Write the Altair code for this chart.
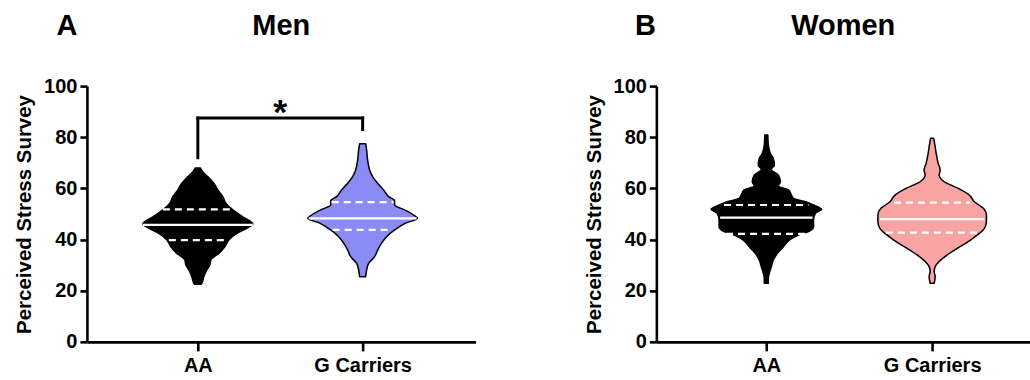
import altair as alt
import pandas as pd

# ---------------- data ----------------
groups = ["AA", "G Carriers"]
panel_titles = ["Men", "Women"]
panel_letters = ["A", "B"]
y_title = "Perceived Stress Survey"
y_ticks = [0, 20, 40, 60, 80, 100]

# violin outlines: score values and half-widths (px at a 165 px category step)
men_aa_v = [68.0, 66.5, 64.6, 62.0, 59.4, 56.8, 54.2, 51.6, 48.9, 47.0, 46.1, 44.4, 42.4, 39.8, 37.2, 34.6, 32.0, 30.1, 28.1, 25.5, 22.9, 22.5]
men_aa_w = [2.5, 5, 10, 16, 20, 25, 28, 35, 45, 53, 55, 49, 39, 31, 27, 21, 13, 12, 9, 6, 4, 3]

men_g_v = [77.5, 75.0, 71.1, 67.2, 64.6, 62.0, 59.4, 56.8, 55.2, 53.5, 51.6, 49.6, 48.3, 46.4, 43.75, 41.1, 38.6, 35.9, 33.3, 30.7, 28.1, 25.5]
men_g_w = [3, 4, 5, 7, 10, 15, 21, 26, 32, 32, 42, 51, 55, 43, 32, 24, 19, 15, 12, 6, 4, 3]

women_aa_v = [80.9, 77.0, 73.7, 71.7, 69.1, 67.4, 65.2, 62.6, 60.9, 59.4, 57.4, 56.1, 54.8, 53.5, 51.8, 50.3, 47.7, 45.0, 43.1, 41.8, 39.8, 37.2, 34.6, 32.0, 29.4, 26.8, 24.9, 22.9]
women_aa_w = [1.5, 2, 4, 7, 8, 5, 12, 14, 12, 22, 25, 27, 39, 47, 55, 49, 47, 47, 42, 32, 23, 17, 11, 7, 5, 3, 2, 2]

women_g_v = [79.6, 76.3, 73.7, 69.8, 67.2, 65.2, 62.6, 60.0, 57.4, 54.8, 52.2, 49.6, 47.0, 44.4, 41.8, 39.2, 36.6, 34.0, 31.4, 29.4, 27.5, 25.5, 22.9]
women_g_w = [1.5, 3, 4, 6, 8, 7, 12, 26, 37, 42, 51, 54, 54, 52, 45, 36, 25, 15, 7, 3, 2, 3, 2]

# quartiles [Q1, median, Q3] and their drawn half-widths (px)
men_aa_q = [39.8, 45.7, 51.8];   men_aa_qw = [29, 55, 35]
men_g_q = [43.75, 48.3, 54.6];   men_g_qw = [30, 54, 31]
women_aa_q = [42.2, 48.6, 53.5]; women_aa_qw = [40, 46, 42]
women_g_q = [42.7, 48.0, 54.4];  women_g_qw = [46, 52, 38]

# significance bracket (men): legs' bottoms and bar height, label
bracket_v = [72.0, 87.5, 83.0]
sig_label = ["*"]

fill_colors = [["#000000", "#8B8BF6"], ["#000000", "#F9A3A3"]]

STEP_PX = 165.0


def outline(center, vs, ws):
    return pd.DataFrame({
        "v": vs,
        "lo": [center - w / STEP_PX for w in ws],
        "hi": [center + w / STEP_PX for w in ws],
    })


def quart(center, qs, qws):
    return pd.DataFrame({
        "kind": ["q1", "median", "q3"],
        "v": qs,
        "lo": [center - w / STEP_PX for w in qws],
        "hi": [center + w / STEP_PX for w in qws],
    })


FONT = "Liberation Sans"


def panel(idx, violins, quarts, xdom, width, letter_dx, bracket=False):
    xs = alt.Scale(domain=xdom, nice=False, zero=False)
    ys = alt.Scale(domain=[0, 100], nice=False, zero=True)
    xaxis = alt.Axis(values=[1, 2], labelExpr="datum.value == 1 ? 'AA' : 'G Carriers'",
                     title=None, grid=False, domainColor="black", domainWidth=2.6,
                     tickColor="black", tickWidth=2.6, tickSize=9, labelPadding=5,
                     labelFont=FONT, labelFontSize=20, labelFontWeight="bold", labelColor="black")
    yaxis = alt.Axis(values=y_ticks, title=y_title, grid=False, domainColor="black", domainWidth=2.6,
                     tickColor="black", tickWidth=2.6, tickSize=7, labelPadding=3,
                     labelFont=FONT, labelFontSize=20, labelFontWeight="bold", labelColor="black",
                     titleFont=FONT, titleFontSize=20.5, titleFontWeight="bold", titleColor="black",
                     titlePadding=9)

    def X(field):
        return alt.X(field, scale=xs, axis=xaxis)

    def Y(field):
        return alt.Y(field, scale=ys, axis=yaxis)

    layers = []
    for k, (vdf, qdf) in enumerate(zip(violins, quarts)):
        area = alt.Chart(vdf).mark_area(orient="horizontal", interpolate="monotone",
                                        fill=fill_colors[idx][k], fillOpacity=1,
                                        stroke="black", strokeWidth=1.5, strokeJoin="round").encode(
            y=Y("v:Q"), x=X("lo:Q"), x2="hi:Q",
        )
        qd = qdf[qdf["kind"] != "median"]
        md = qdf[qdf["kind"] == "median"]
        dashed = alt.Chart(qd).mark_rule(color="white", strokeWidth=2.2, strokeDash=[7, 5]).encode(
            y=Y("v:Q"), x=X("lo:Q"), x2="hi:Q")
        med = alt.Chart(md).mark_rule(color="white", strokeWidth=2.2).encode(
            y=Y("v:Q"), x=X("lo:Q"), x2="hi:Q")
        layers += [area, dashed, med]

    ttl = pd.DataFrame({"t": [panel_titles[idx]]})
    title_text = alt.Chart(ttl).mark_text(font=FONT, fontSize=29, fontWeight="bold",
                                          baseline="alphabetic", align="center", color="black").encode(
        text="t:N", x=alt.value(width / 2), y=alt.value(-51))
    let = pd.DataFrame({"t": [panel_letters[idx]]})
    letter_text = alt.Chart(let).mark_text(font=FONT, fontSize=29, fontWeight="bold",
                                           baseline="alphabetic", align="center", color="black").encode(
        text="t:N", x=alt.value(letter_dx), y=alt.value(-51))

    if bracket:
        seg = pd.DataFrame({
            "lo": [1, 1, 2],
            "hi": [1, 2, 2],
            "v": [bracket_v[0], bracket_v[1], bracket_v[2]],
            "v2": [bracket_v[1], bracket_v[1], bracket_v[1]],
        })
        br = alt.Chart(seg).mark_rule(color="black", strokeWidth=3, strokeCap="square").encode(
            x=X("lo:Q"), x2="hi:Q", y=Y("v:Q"), y2="v2:Q")
        star = alt.Chart(pd.DataFrame({"t": sig_label, "lo": [1.5], "v": [bracket_v[1]]})).mark_text(
            font=FONT, fontSize=36, fontWeight="bold", baseline="alphabetic", dy=6, color="black").encode(
            text="t:N", x=X("lo:Q"), y=Y("v:Q"))
        layers += [br, star]
    layers += [title_text, letter_text]
    return alt.layer(*layers).properties(width=width, height=256)


men_violins = [outline(1, men_aa_v, men_aa_w), outline(2, men_g_v, men_g_w)]
men_quarts = [quart(1, men_aa_q, men_aa_qw), quart(2, men_g_q, men_g_qw)]
wom_violins = [outline(1, women_aa_v, women_aa_w), outline(2, women_g_v, women_g_w)]
wom_quarts = [quart(1, women_aa_q, women_aa_qw), quart(2, women_g_q, women_g_qw)]

left = panel(0, men_violins, men_quarts, [0.327, 2.685], 389, -20, bracket=True)
right = panel(1, wom_violins, wom_quarts, [0.337, 2.590], 374, -11)

chart = alt.hconcat(left, right, spacing=108).properties(
    padding={"left": 14, "top": 12, "right": 0, "bottom": 0},
    background="white",
).configure_view(stroke=None)

chart.save("out.html", embed_options={"renderer": "svg", "actions": False})
